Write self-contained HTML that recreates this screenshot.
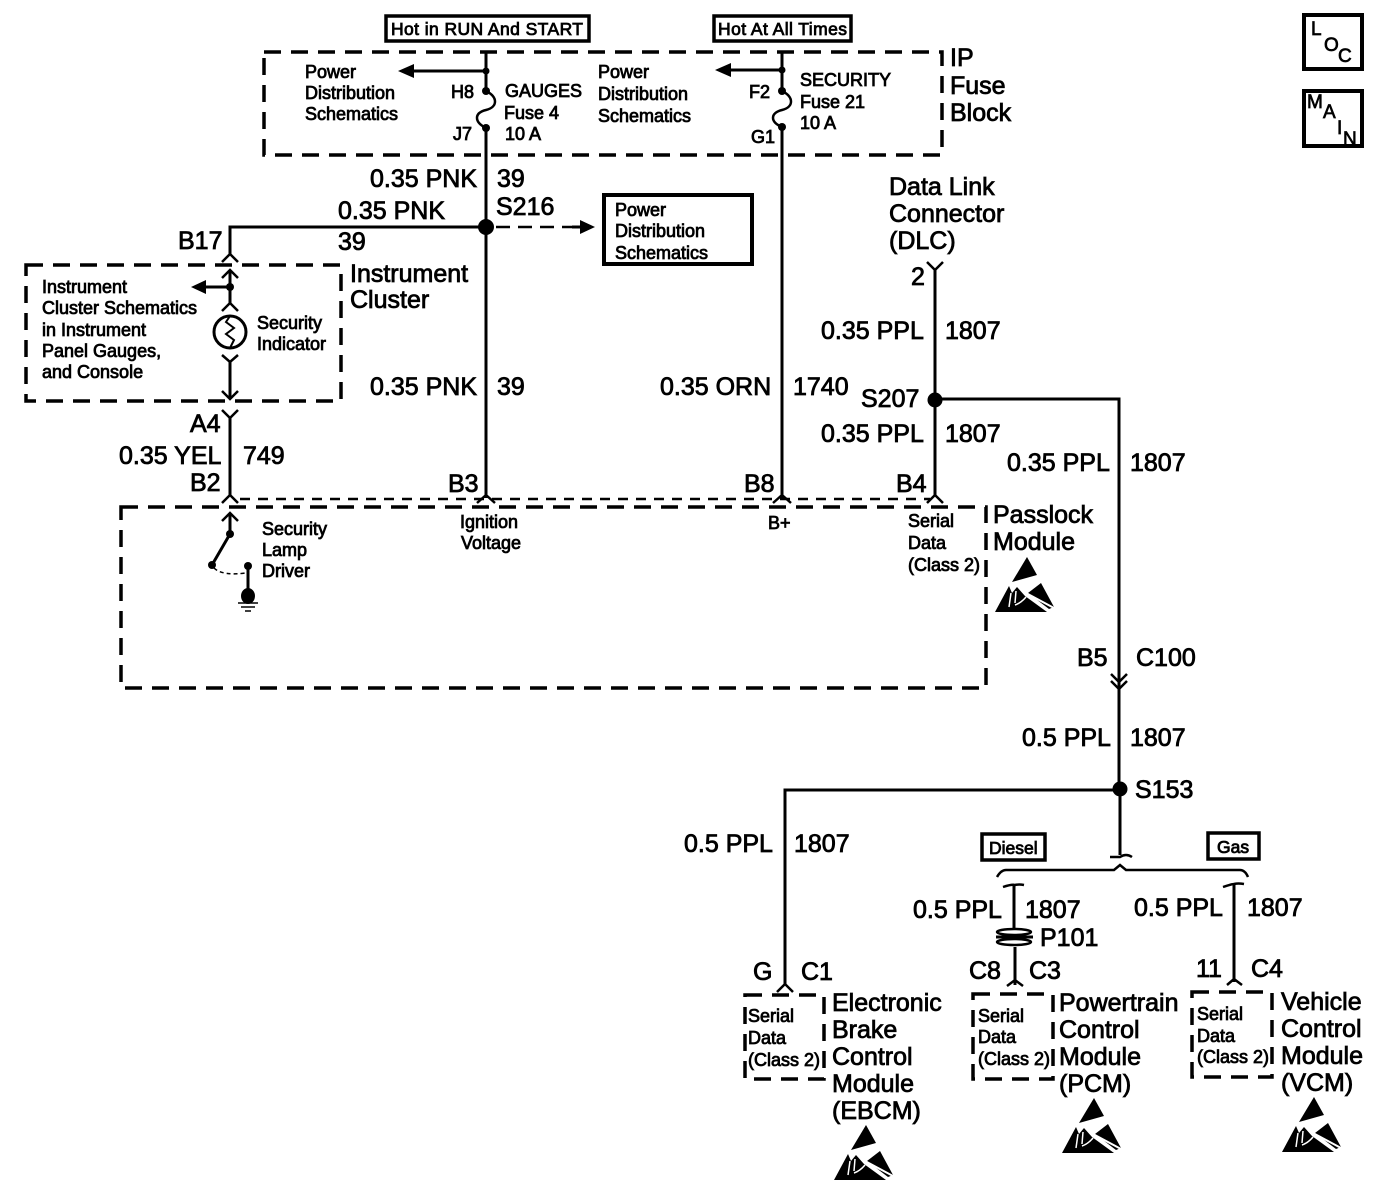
<!DOCTYPE html>
<html><head><meta charset="utf-8"><style>
html,body{margin:0;padding:0;background:#fff}
svg{display:block}
text{font-family:"Liberation Sans",sans-serif;fill:#000;stroke:#000}
.L{font-size:25px;stroke-width:.8}
.S{font-size:18px;stroke-width:.8}
.M{font-size:17.5px;stroke-width:.8}
.w{fill:none;stroke:#000;stroke-width:3}
.t{fill:none;stroke:#000;stroke-width:2.5}
.d{fill:none;stroke:#000;stroke-width:3.5;stroke-dasharray:17 10}
.b{fill:#fff;stroke:#000;stroke-width:3.5}
</style></head><body>
<svg width="1392" height="1196" viewBox="0 0 1392 1196" xmlns="http://www.w3.org/2000/svg">
<defs>
<symbol id="esd" viewBox="0 0 60 56" width="60" height="56" overflow="visible">
<path d="M32 0L17 25L42 18Z" fill="#000"/>
<path d="M0 55L14 29L17 36L22 30L30 39L52 55Z" fill="#000"/>
<path d="M33 36L46 26L59 50L54 52Z" fill="#000"/>
<path d="M31 36L59 51" stroke="#fff" stroke-width="2" fill="none"/>
<path d="M14 50L16 36M20 46L21 34M20 48Q26 46 31 40" stroke="#fff" stroke-width="1.5" fill="none"/>
</symbol>
</defs>

<!-- boxes -->
<rect x="386" y="16" width="203" height="25" class="b"/>
<rect x="714" y="16" width="137" height="25" class="b"/>
<rect x="604" y="195" width="148" height="69" fill="#fff" stroke="#000" stroke-width="4"/>
<rect x="982" y="834" width="63" height="26" class="b"/>
<rect x="1208" y="833" width="51" height="26" class="b"/>
<rect x="1304" y="15" width="58" height="54" fill="#fff" stroke="#000" stroke-width="4"/>
<rect x="1304" y="91" width="58" height="55" fill="#fff" stroke="#000" stroke-width="4"/>

<!-- dashed enclosures -->
<rect x="264" y="52" width="678" height="103" class="d"/>
<rect x="26" y="265" width="315" height="136" class="d"/>
<rect x="121" y="507" width="865" height="181" class="d"/>
<rect x="745" y="995" width="79" height="84" class="d"/>
<rect x="973" y="994" width="80" height="85" class="d"/>
<rect x="1192" y="992" width="80" height="85" class="d"/>
<path d="M240 499H930" fill="none" stroke="#000" stroke-width="2.5" stroke-dasharray="10 8"/>

<!-- wires -->
<path d="M486 52V91M486 128V498M782 52V91M782 127V498" class="w"/>
<path d="M486 91C498 97 498 107 486 110C474 113 474 122 486 128M782 91C794 97 794 107 782 110C770 113 770 122 782 127" class="t"/>
<circle cx="486" cy="71" r="3.5"/><circle cx="486" cy="91" r="4"/><circle cx="486" cy="128" r="4"/>
<circle cx="782" cy="70" r="3.5"/><circle cx="782" cy="91" r="4"/><circle cx="782" cy="127" r="4"/>
<path d="M486 71H410M782 70H728" class="w"/>
<path d="M398 71L414 64V78Z M715 70L731 63V77Z"/>
<path d="M486 227H230V254" class="w"/>
<circle cx="486" cy="227" r="8"/>
<path d="M496 227H572" fill="none" stroke="#000" stroke-width="2.5" stroke-dasharray="14 8"/>
<path d="M572 227H584" class="w"/>
<path d="M595 227L580 220V234Z"/>
<!-- B17 / cluster -->
<path d="M222 262L230 254L238 262M222 278L230 270L238 278M222 311L230 303L238 311" class="t"/>
<path d="M230 270V303M230 287H205" class="w"/>
<circle cx="230" cy="287" r="4"/>
<path d="M191 287L206 280V294Z"/>
<circle cx="230" cy="332" r="16" fill="#fff" stroke="#000" stroke-width="3"/>
<path d="M230 316L226 322L234 328L226 334L234 340L230 348" fill="none" stroke="#000" stroke-width="2"/>
<path d="M222 355L230 362L238 355M230 362V398M222 391L230 399L238 391" class="t"/>
<path d="M230 362V398" class="w"/>
<path d="M222 410L230 418L238 410M230 418V495M222 503L230 495L238 503" class="t"/>
<path d="M230 418V495" class="w"/>
<path d="M222 521L230 513L238 521" class="t"/>
<path d="M230 513V534L212 565" class="w"/>
<circle cx="230" cy="534" r="4"/><circle cx="212" cy="565" r="4"/><circle cx="248" cy="566" r="4"/>
<path d="M214 568Q222 576 246 573" fill="none" stroke="#000" stroke-width="1.5" stroke-dasharray="4 3"/>
<path d="M248 566V592" class="w"/>
<ellipse cx="248" cy="596" rx="7" ry="8"/>
<path d="M238 603H258M241 607H255M245 611H251" fill="none" stroke="#000" stroke-width="1.5"/>
<!-- connector chevrons at bottom -->
<path d="M477 503L486 495L495 503M773 503L782 495L791 503M927 503L935 495L943 503" class="t"/>
<!-- DLC -->
<path d="M927 262L935 270L943 262" class="t"/>
<path d="M935 270V495M935 399H1119V790" class="w"/>
<circle cx="935" cy="400" r="7.5"/>
<path d="M1111 674L1119 682L1127 674M1111 681L1119 689L1127 681" class="t"/>
<circle cx="1120" cy="789" r="7.5"/>
<path d="M1120 790H785V985M1120 790V855" class="w"/>
<path d="M777 992L785 984L793 992" class="t"/>
<!-- bracket -->
<path d="M1110 857H1120Q1126 853 1132 857" class="t"/>
<path d="M997 877Q1001 870 1006 870H1114L1120 865L1126 870H1240Q1245 870 1248 877" class="t"/>
<path d="M1003 887Q1012 884 1015 885Q1019 884 1024 885M1223 887Q1232 884 1234 884Q1238 883 1244 884" class="t"/>
<path d="M1014 885V930M1015 947V985M1234 884V982" class="w"/>
<path d="M1007 986L1015 980L1023 986M1227 985L1234 979L1242 985" class="t"/>
<ellipse cx="1014" cy="932" rx="17" ry="3" class="t"/>
<ellipse cx="1014" cy="942" rx="17" ry="3" class="t"/>
<path d="M996 937H1033" class="w"/>

<!-- ESD icons -->
<use href="#esd" x="995" y="557"/>
<use href="#esd" x="834" y="1125"/>
<use href="#esd" x="1062" y="1098"/>
<use href="#esd" x="1282" y="1097"/>

<!-- text -->
<text x="391" y="35" class="M" textLength="192">Hot in RUN And START</text>
<text x="718" y="35" class="M" textLength="129">Hot At All Times</text>
<text x="305" y="78" class="S">Power</text><text x="305" y="99" class="S">Distribution</text><text x="305" y="120" class="S">Schematics</text>
<text x="598" y="78" class="S">Power</text><text x="598" y="100" class="S">Distribution</text><text x="598" y="122" class="S">Schematics</text>
<text x="451" y="98" class="S">H8</text><text x="453" y="140" class="S">J7</text>
<text x="505" y="97" class="S">GAUGES</text><text x="504" y="119" class="S">Fuse 4</text><text x="505" y="140" class="S">10 A</text>
<text x="749" y="98" class="S">F2</text><text x="751" y="143" class="S">G1</text>
<text x="800" y="86" class="S">SECURITY</text><text x="800" y="108" class="S">Fuse 21</text><text x="800" y="129" class="S">10 A</text>
<text x="950" y="66" class="L">IP</text><text x="950" y="94" class="L">Fuse</text><text x="950" y="121" class="L">Block</text>
<text x="615" y="216" class="S">Power</text><text x="615" y="237" class="S">Distribution</text><text x="615" y="259" class="S">Schematics</text>

<text x="370" y="187" class="L">0.35 PNK</text><text x="497" y="187" class="L">39</text>
<text x="338" y="219" class="L">0.35 PNK</text><text x="496" y="215" class="L">S216</text>
<text x="338" y="250" class="L">39</text><text x="178" y="249" class="L">B17</text>
<text x="350" y="282" class="L">Instrument</text><text x="350" y="308" class="L">Cluster</text>
<text x="889" y="195" class="L">Data Link</text><text x="889" y="222" class="L">Connector</text><text x="889" y="249" class="L">(DLC)</text>
<text x="911" y="285" class="L">2</text>
<text x="821" y="339" class="L">0.35 PPL</text><text x="945" y="339" class="L">1807</text>
<text x="861" y="407" class="L">S207</text>
<text x="821" y="442" class="L">0.35 PPL</text><text x="945" y="442" class="L">1807</text>
<text x="1007" y="471" class="L">0.35 PPL</text><text x="1130" y="471" class="L">1807</text>
<text x="660" y="395" class="L">0.35 ORN</text><text x="793" y="395" class="L">1740</text>
<text x="370" y="395" class="L">0.35 PNK</text><text x="497" y="395" class="L">39</text>
<text x="190" y="432" class="L">A4</text><text x="119" y="464" class="L">0.35 YEL</text><text x="243" y="464" class="L">749</text><text x="190" y="491" class="L">B2</text>
<text x="448" y="492" class="L">B3</text><text x="744" y="492" class="L">B8</text><text x="896" y="492" class="L">B4</text>

<text x="42" y="293" class="S">Instrument</text><text x="42" y="314" class="S">Cluster Schematics</text><text x="42" y="336" class="S">in Instrument</text><text x="42" y="357" class="S">Panel Gauges,</text><text x="42" y="378" class="S">and Console</text>
<text x="257" y="329" class="S">Security</text><text x="257" y="350" class="S">Indicator</text>
<text x="262" y="535" class="S">Security</text><text x="262" y="556" class="S">Lamp</text><text x="262" y="577" class="S">Driver</text>
<text x="460" y="528" class="S">Ignition</text><text x="461" y="549" class="S">Voltage</text>
<text x="768" y="529" class="S">B+</text>
<text x="908" y="527" class="S">Serial</text><text x="908" y="549" class="S">Data</text><text x="908" y="571" class="S">(Class 2)</text>
<text x="993" y="523" class="L">Passlock</text><text x="993" y="550" class="L">Module</text>

<text x="1077" y="666" class="L">B5</text><text x="1136" y="666" class="L">C100</text>
<text x="1022" y="746" class="L">0.5 PPL</text><text x="1130" y="746" class="L">1807</text>
<text x="1135" y="798" class="L">S153</text>
<text x="684" y="852" class="L">0.5 PPL</text><text x="794" y="852" class="L">1807</text>
<text x="989" y="854" class="M">Diesel</text><text x="1217" y="853" class="M">Gas</text>
<text x="913" y="918" class="L">0.5 PPL</text><text x="1025" y="918" class="L">1807</text>
<text x="1134" y="916" class="L">0.5 PPL</text><text x="1247" y="916" class="L">1807</text>
<text x="1040" y="946" class="L">P101</text>
<text x="969" y="979" class="L">C8</text><text x="1029" y="979" class="L">C3</text>
<text x="1196" y="977" class="L">11</text><text x="1251" y="977" class="L">C4</text>
<text x="753" y="980" class="L">G</text><text x="801" y="980" class="L">C1</text>

<text x="748" y="1022" class="S">Serial</text><text x="748" y="1044" class="S">Data</text><text x="748" y="1066" class="S">(Class 2)</text>
<text x="978" y="1022" class="S">Serial</text><text x="978" y="1043" class="S">Data</text><text x="978" y="1065" class="S">(Class 2)</text>
<text x="1197" y="1020" class="S">Serial</text><text x="1197" y="1042" class="S">Data</text><text x="1197" y="1063" class="S">(Class 2)</text>

<text x="832" y="1011" class="L">Electronic</text><text x="832" y="1038" class="L">Brake</text><text x="832" y="1065" class="L">Control</text><text x="832" y="1092" class="L">Module</text><text x="832" y="1119" class="L">(EBCM)</text>
<text x="1059" y="1011" class="L">Powertrain</text><text x="1059" y="1038" class="L">Control</text><text x="1059" y="1065" class="L">Module</text><text x="1059" y="1092" class="L">(PCM)</text>
<text x="1281" y="1010" class="L">Vehicle</text><text x="1281" y="1037" class="L">Control</text><text x="1281" y="1064" class="L">Module</text><text x="1281" y="1091" class="L">(VCM)</text>

<text x="1311" y="35" font-size="19" stroke-width=".7">L</text><text x="1324" y="51" font-size="19" stroke-width=".7">O</text><text x="1338" y="62" font-size="19" stroke-width=".7">C</text>
<text x="1307" y="108" font-size="19" stroke-width=".7">M</text><text x="1323" y="118" font-size="19" stroke-width=".7">A</text><text x="1337" y="134" font-size="19" stroke-width=".7">I</text><text x="1343" y="145" font-size="19" stroke-width=".7">N</text>
</svg>
</body></html>
